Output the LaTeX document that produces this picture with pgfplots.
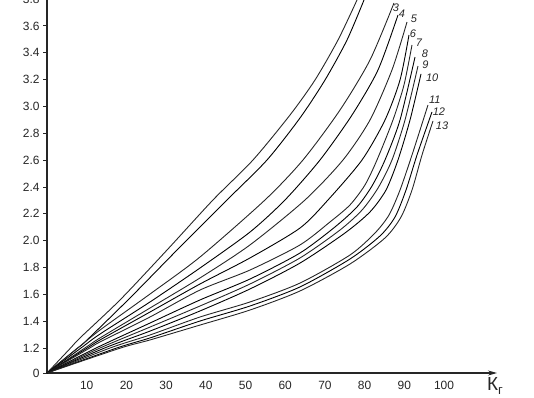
\documentclass[border=0pt]{standalone}
\usepackage{pgfplots}
\pgfplotsset{compat=1.18}
\usepackage{fontspec}
\setmainfont{Liberation Sans}
\usetikzlibrary{arrows.meta,calc}
\begin{document}
\begin{tikzpicture}
\begin{axis}[
  name=ax,
  scale only axis,
  width=450bp, height=380.65bp,
  xmin=0, xmax=113.35,
  ymin=0, ymax=3.85,
  y coord trafo/.code={\pgfmathparse{#1<1.2 ? #1*0.15525 : #1-1.01375}},
  y coord inv trafo/.code={\pgfmathparse{#1<0.18625 ? #1/0.15525 : #1+1.01375}},
  axis x line=bottom,
  axis y line*=left,
  axis line style={line width=1.1bp, black!85},
  x axis line style={-{Stealth[length=9bp,width=5bp]}},
  xtick={10,20,30,40,50,60,70,80,90,100},
  xticklabels={10,20,30,40,50,60,70,80,90,100},
  ytick={0,1.2,1.4,1.6,1.8,2.0,2.2,2.4,2.6,2.8,3.0,3.2,3.4,3.6,3.8},
  yticklabels={0,1.2,1.4,1.6,1.8,2.0,2.2,2.4,2.6,2.8,3.0,3.2,3.4,3.6,3.8},
  tick align=outside,
  major tick length=4bp,
  x tick style={draw=none},
  y tick style={line width=0.8bp, black!85},
  tick label style={font=\fontsize{12}{13}\selectfont, black!85},
  x tick label style={yshift=-1bp},
  /pgf/number format/assume math mode=true,
  clip=false,
  cycle list={{black!85, solid}},
  every axis plot/.append style={line width=0.9bp, smooth, tension=0.45},
  no markers,
]
% curve 1
\addplot coordinates {(0,0) (5.94,1.2) (8.31,1.275) (18.39,1.558) (30.23,1.930) (41.81,2.303) (51.89,2.601) (61.21,2.936) (67.51,3.197) (73.30,3.495) (78.09,3.793)};
% curve 2
\addplot coordinates {(0,0) (7.71,1.2) (9.57,1.245) (20.91,1.573) (32.75,1.930) (45.34,2.303) (55.42,2.601) (63.73,2.914) (70.03,3.197) (75.57,3.495) (79.85,3.793)};
% curve 3
\addplot coordinates {(0,0) (7.76,1.2) (13.35,1.334) (25.94,1.602) (38.54,1.878) (54.91,2.303) (64.48,2.601) (73.80,2.973) (81.36,3.346) (87.41,3.771)};
% curve 4
\addplot coordinates {(0,0) (8.56,1.2) (13.35,1.304) (25.94,1.543) (38.54,1.796) (51.13,2.064) (59.95,2.303) (68.77,2.601) (76.83,2.936) (83.38,3.272) (88.41,3.681)};
% curve 5
\addplot coordinates {(0,0) (9.55,1.2) (13.35,1.275) (25.94,1.498) (38.54,1.722) (51.13,1.968) (64.99,2.303) (74.56,2.601) (81.36,2.899) (86.90,3.272) (90.68,3.629)};
% curve 6
\addplot coordinates {(0,0) (10.13,1.2) (13.35,1.260) (25.94,1.468) (38.54,1.677) (51.13,1.871) (63.73,2.094) (70.78,2.303) (79.35,2.601) (85.14,2.899) (88.92,3.197) (91.18,3.532)};
% curve 7
\addplot coordinates {(0,0) (10.76,1.2) (13.35,1.245) (25.94,1.431) (38.54,1.632) (51.13,1.781) (63.73,1.968) (71.28,2.139) (76.32,2.266) (80.10,2.415) (83.12,2.601) (87.15,2.899) (89.92,3.160) (91.94,3.458)};
% curve 8
\addplot coordinates {(0,0) (12.37,1.2) (25.94,1.386) (38.54,1.558) (51.13,1.714) (63.73,1.908) (72.54,2.102) (78.09,2.251) (81.86,2.407) (85.14,2.601) (88.92,2.899) (92.70,3.368)};
% curve 9
\addplot coordinates {(0,0) (13.35,1.2) (25.94,1.356) (38.54,1.513) (51.13,1.677) (63.73,1.871) (73.80,2.079) (79.35,2.228) (83.38,2.392) (86.90,2.601) (90.18,2.899) (93.45,3.301)};
% curve 10
\addplot coordinates {(0,0) (14.51,1.2) (25.94,1.326) (38.54,1.476) (51.13,1.640) (63.73,1.833) (75.06,2.057) (81.36,2.214) (85.39,2.377) (88.41,2.601) (91.44,2.899) (94.21,3.242)};
% curve 11
\addplot coordinates {(0,0) (15.87,1.2) (25.94,1.297) (38.54,1.431) (51.13,1.543) (63.73,1.684) (76.32,1.893) (82.62,2.057) (86.15,2.191) (88.92,2.377) (91.94,2.638) (95.97,3.011)};
% curve 12
\addplot coordinates {(0,0) (17.56,1.2) (25.94,1.275) (38.54,1.401) (51.13,1.513) (63.73,1.655) (76.32,1.863) (83.88,2.035) (87.66,2.176) (90.43,2.377) (93.20,2.638) (96.98,2.959)};
% curve 13
\addplot coordinates {(0,0) (18.54,1.2) (25.94,1.260) (38.54,1.371) (51.13,1.483) (63.73,1.625) (76.32,1.826) (85.14,2.020) (89.17,2.176) (91.94,2.377) (94.46,2.638) (97.23,2.892)};
% curve numbers
\begin{scope}[every node/.style={font=\itshape\fontsize{11}{12}\selectfont, black!85, inner sep=0pt}]
\node at (axis cs:87.9,3.734) {3};
\node at (axis cs:89.4,3.689) {4};
\node at (axis cs:92.4,3.651) {5};
\node at (axis cs:92.2,3.540) {6};
\node at (axis cs:93.7,3.473) {7};
\node at (axis cs:95.2,3.391) {8};
\node at (axis cs:95.3,3.308) {9};
\node at (axis cs:97.0,3.215) {10};
\node at (axis cs:97.7,3.048) {11};
\node at (axis cs:98.7,2.959) {12};
\node at (axis cs:99.5,2.854) {13};
\end{scope}
\end{axis}
\node[font=\fontsize{19}{20}\selectfont, black!85, anchor=center] at ($(ax.south west)+(448bp,-13bp)$) {К\raisebox{-0.35ex}{\fontsize{13}{14}\selectfont г}};
\pgfresetboundingbox
\path (ax.south west) ++(-47bp,-25bp) rectangle ++(534bp,398bp);
\end{tikzpicture}
\end{document}
